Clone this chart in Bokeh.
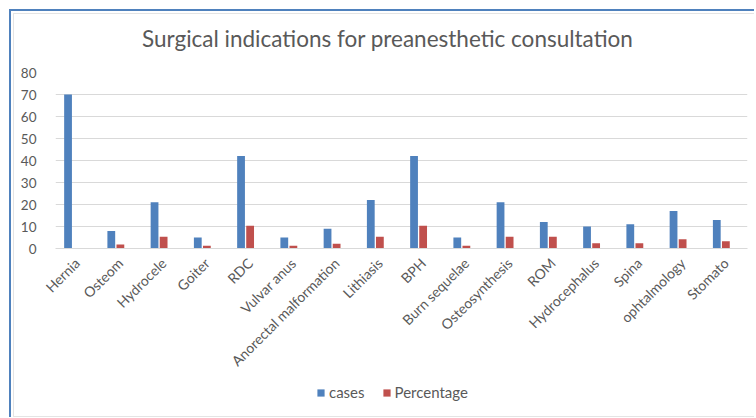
import math
from bokeh.plotting import figure
from bokeh.models import FactorRange, Legend, LegendItem, SingleIntervalTicker, Div
from bokeh.transform import dodge
from bokeh.layouts import column
from bokeh.embed import file_html
from bokeh.resources import INLINE

title = "Surgical indications for preanesthetic consultation"
categories = ["Hernia", "Osteom", "Hydrocele", "Goiter", "RDC", "Vulvar anus",
              "Anorectal malformation", "Lithiasis", "BPH", "Burn sequelae",
              "Osteosynthesis", "ROM", "Hydrocephalus", "Spina", "ophtalmology", "Stomato"]
cases = [70, 8, 21, 5, 42, 5, 9, 22, 42, 5, 21, 12, 10, 11, 17, 13]
percentage = [0, 1.8, 5.3, 1.2, 10.3, 1.2, 2.2, 5.3, 10.3, 1.2, 5.3, 5.3, 2.4, 2.4, 4.2, 3.3]
series_names = ["cases", "Percentage"]

BLUE = "#4f81bd"
RED = "#c0504d"
TXT = "#595959"
FONT = "Lato"

src = dict(cat=categories, cases=cases, pct=percentage)

head = Div(text=title, width=740, height=50, margin=0,
           styles={"font-family": FONT, "font-size": "22.5px", "color": TXT,
                   "line-height": "50px", "text-align": "left", "text-indent": "128px",
                   "white-space": "nowrap", "background": "white"})

p = figure(x_range=FactorRange(*categories), y_range=(0, 80),
           width=740, height=314, output_backend="svg", toolbar_location=None,
           min_border_left=41, min_border_right=7, min_border_top=8, min_border_bottom=130)

r1 = p.vbar(x=dodge("cat", -0.21, range=p.x_range), top="cases", width=0.18, source=src,
            fill_color=BLUE, line_color=None)
r2 = p.vbar(x=dodge("cat", 0.0, range=p.x_range), top="pct", width=0.18, source=src,
            fill_color=RED, line_color=None)

p.outline_line_color = None
p.border_fill_color = "white"
p.xgrid.grid_line_color = None
p.ygrid.grid_line_color = "#d9d9d9"
p.ygrid.ticker = SingleIntervalTicker(interval=10)

p.yaxis.ticker = SingleIntervalTicker(interval=10)
p.yaxis.axis_line_color = None
p.yaxis.major_tick_line_color = None
p.yaxis.minor_tick_line_color = None
p.yaxis.major_label_text_font = FONT
p.yaxis.major_label_text_font_size = "13.5px"
p.yaxis.major_label_text_color = TXT
p.yaxis.major_label_standoff = 13

p.xaxis.axis_line_color = "#d9d9d9"
p.xaxis.major_tick_line_color = None
p.xaxis.minor_tick_line_color = None
p.xaxis.major_label_orientation = math.pi / 4
p.xaxis.major_label_text_font = FONT
p.xaxis.major_label_text_font_size = "14px"
p.xaxis.major_label_text_color = TXT
p.xaxis.major_label_standoff = 6

# legend strip (bars kept out of view; only the legend shows)
lg = figure(x_range=FactorRange(*categories), y_range=(1000, 1001),
            width=740, height=38, output_backend="svg", toolbar_location=None,
            min_border_left=41, min_border_right=7, min_border_top=0, min_border_bottom=0)
l1 = lg.vbar(x=dodge("cat", -0.21, range=lg.x_range), top="cases", width=0.18, source=src,
             fill_color=BLUE, line_color=None)
l2 = lg.vbar(x=dodge("cat", 0.0, range=lg.x_range), top="pct", width=0.18, source=src,
             fill_color=RED, line_color=None)
lg.axis.visible = False
lg.grid.visible = False
lg.outline_line_color = None
legend = Legend(items=[LegendItem(label=series_names[0], renderers=[l1]),
                       LegendItem(label=series_names[1], renderers=[l2])],
                orientation="horizontal", location=(261, 15),
                border_line_color=None, background_fill_alpha=0,
                glyph_width=9, glyph_height=9, label_text_font=FONT,
                label_text_font_size="15px", label_text_color=TXT,
                spacing=17, padding=0, margin=0, label_standoff=4)
lg.add_layout(legend, "center")

inner = column(head, p, lg, spacing=0,
               styles={"border-top": "1px solid #e4e4e4", "border-left": "1px solid #e4e4e4",
                       "border-bottom": "1px solid #e4e4e4"})
wrap = column(inner, margin=(9, 0, 0, 9),
              styles={"border-top": f"2px solid {BLUE}", "border-left": f"2px solid {BLUE}",
                      "padding": "2px 0 0 2px"})

open("out.html", "w").write(file_html(wrap, INLINE))
